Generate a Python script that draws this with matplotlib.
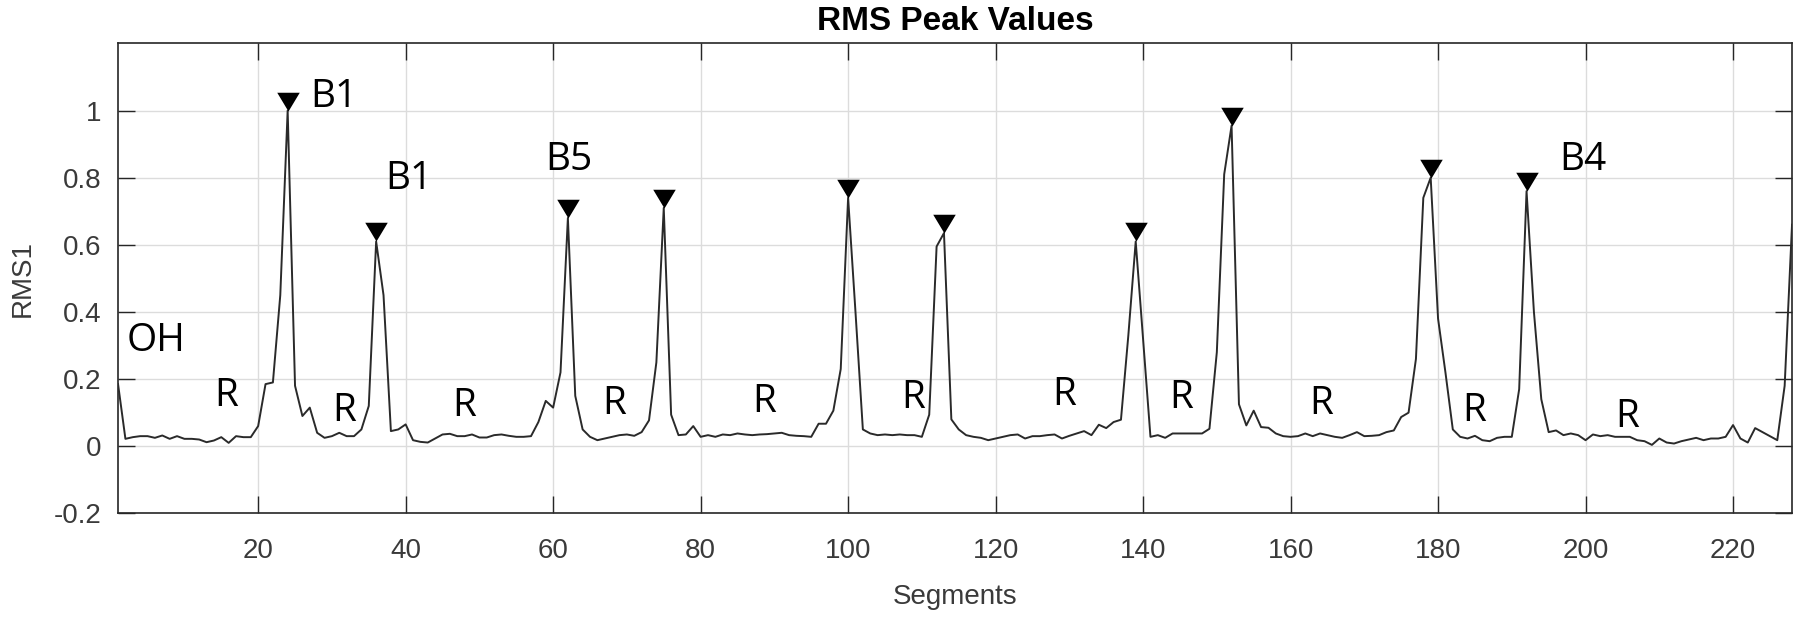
import numpy as np
import matplotlib
matplotlib.use("Agg")
import matplotlib.pyplot as plt
from matplotlib.path import Path

# ---------------- data ----------------
segments = list(range(1, 229))
rms1 = [
    0.185, 0.022, 0.027, 0.030, 0.030, 0.025, 0.032, 0.022, 0.030, 0.022,   # 1-10
    0.022, 0.020, 0.012, 0.017, 0.027, 0.010, 0.030, 0.027, 0.027, 0.060,   # 11-20
    0.185, 0.190, 0.450, 1.000, 0.180, 0.090, 0.115, 0.040, 0.025, 0.030,   # 21-30
    0.040, 0.030, 0.030, 0.050, 0.120, 0.610, 0.450, 0.045, 0.050, 0.065,   # 31-40
    0.018, 0.013, 0.011, 0.023, 0.035, 0.037, 0.030, 0.030, 0.035, 0.026,   # 41-50
    0.026, 0.033, 0.035, 0.031, 0.028, 0.028, 0.030, 0.072, 0.135, 0.115,   # 51-60
    0.220, 0.680, 0.150, 0.050, 0.028, 0.018, 0.023, 0.028, 0.033, 0.035,   # 61-70
    0.031, 0.042, 0.077, 0.250, 0.710, 0.094, 0.033, 0.035, 0.060, 0.028,   # 71-80
    0.033, 0.028, 0.035, 0.033, 0.038, 0.035, 0.033, 0.035, 0.036, 0.038,   # 81-90
    0.040, 0.033, 0.031, 0.030, 0.028, 0.067, 0.067, 0.106, 0.230, 0.740,   # 91-100
    0.400, 0.050, 0.038, 0.033, 0.035, 0.033, 0.035, 0.033, 0.033, 0.028,   # 101-110
    0.094, 0.595, 0.635, 0.080, 0.050, 0.033, 0.028, 0.025, 0.018, 0.023,   # 111-120
    0.028, 0.033, 0.035, 0.023, 0.030, 0.030, 0.033, 0.035, 0.023, 0.031,   # 121-130
    0.038, 0.045, 0.033, 0.064, 0.054, 0.072, 0.079, 0.330, 0.610, 0.320,   # 131-140
    0.028, 0.033, 0.025, 0.038, 0.038, 0.038, 0.038, 0.038, 0.052, 0.280,   # 141-150
    0.810, 0.955, 0.125, 0.062, 0.106, 0.057, 0.055, 0.038, 0.030, 0.028,   # 151-160
    0.030, 0.038, 0.030, 0.038, 0.033, 0.028, 0.025, 0.033, 0.042, 0.030,   # 161-170
    0.031, 0.033, 0.042, 0.047, 0.087, 0.100, 0.260, 0.740, 0.800, 0.380,   # 171-180
    0.220, 0.050, 0.028, 0.023, 0.031, 0.018, 0.015, 0.025, 0.028, 0.028,   # 181-190
    0.170, 0.760, 0.400, 0.140, 0.042, 0.047, 0.033, 0.038, 0.033, 0.018,   # 191-200
    0.035, 0.030, 0.033, 0.028, 0.028, 0.028, 0.018, 0.015, 0.004, 0.023,   # 201-210
    0.011, 0.008, 0.015, 0.020, 0.025, 0.018, 0.023, 0.023, 0.028, 0.063,   # 211-220
    0.023, 0.011, 0.054, 0.042, 0.030, 0.018, 0.180, 0.660,                 # 221-228
]
peak_segments = [24, 36, 62, 75, 100, 113, 139, 152, 179, 192]

label_texts = ["B1", "B1", "B5", "B4", "OH"]
label_x = [30.2, 40.5, 62.2, 199.7, 6.1]
label_y = [1.039, 0.795, 0.853, 0.853, 0.312]

r_x = [15.6, 31.6, 47.9, 68.3, 88.6, 108.8, 129.3, 145.2, 164.1, 184.9, 205.7]
r_y = [0.150, 0.105, 0.120, 0.126, 0.133, 0.144, 0.153, 0.144, 0.126, 0.105, 0.086]

x_ticks = [20, 40, 60, 80, 100, 120, 140, 160, 180, 200, 220]
y_ticks = [-0.2, 0, 0.2, 0.4, 0.6, 0.8, 1.0]
y_tick_labels = ["-0.2", "0", "0.2", "0.4", "0.6", "0.8", "1"]

# ---------------- figure ----------------
narrow = ["Liberation Sans Narrow", "Liberation Sans", "DejaVu Sans"]
anno_font = ["Open Sans", "DejaVu Sans"]
axis_col = "#262626"

fig = plt.figure(figsize=(17.94, 6.2), dpi=100)
ax = fig.add_axes([0.0658, 0.172, 0.9331, 0.758])

ax.plot(segments, rms1, color="#2a2a2a", lw=1.4, zorder=3)

# peak markers: downward triangle with its tip on the peak value
tri = Path([(0, 0), (-0.6, 1.0), (0.6, 1.0), (0, 0)],
           [Path.MOVETO, Path.LINETO, Path.LINETO, Path.CLOSEPOLY])
pk_y = [rms1[segments.index(s)] for s in peak_segments]
ax.plot(peak_segments, pk_y, linestyle="none", marker=tri, markersize=27,
        color="black", markeredgewidth=0, zorder=4)

for t, x, y in zip(label_texts, label_x, label_y):
    ax.text(x, y, t, ha="center", va="center", fontsize=28,
            family=anno_font, color="black", zorder=5)
for x, y in zip(r_x, r_y):
    ax.text(x, y, "R", ha="center", va="center", fontsize=28,
            family=anno_font, color="black", zorder=5)

ax.set_xlim(1, 228)
ax.set_ylim(-0.2, 1.2)
ax.set_xticks(x_ticks)
ax.set_xticklabels([str(v) for v in x_ticks])
ax.set_yticks(y_ticks)
ax.set_yticklabels(y_tick_labels)

ax.grid(True, color="#dcdcdc", lw=1.0)
ax.set_axisbelow(True)
ax.tick_params(direction="in", length=12, width=1.0, color=axis_col,
               top=True, right=True, labelcolor="#3a3a3a", labelsize=20)
ax.tick_params(axis="x", pad=18)
ax.tick_params(axis="y", pad=12)
for lab in ax.get_xticklabels() + ax.get_yticklabels():
    lab.set_family(narrow)
for sp in ax.spines.values():
    sp.set_color(axis_col)
    sp.set_linewidth(1.2)

ax.set_title("RMS Peak Values", fontsize=24, fontweight="bold",
             family=narrow, color="black", pad=10)
ax.set_xlabel("Segments", fontsize=20, family=narrow, color="#3a3a3a")
ax.xaxis.set_label_coords(0.5, -0.15)
ax.set_ylabel("RMS1", fontsize=20, family=narrow, color="#3a3a3a")
ax.yaxis.set_label_coords(-0.057, 0.5)
ax.yaxis.label.set_va("center")

fig.savefig("out.png", dpi=100)
